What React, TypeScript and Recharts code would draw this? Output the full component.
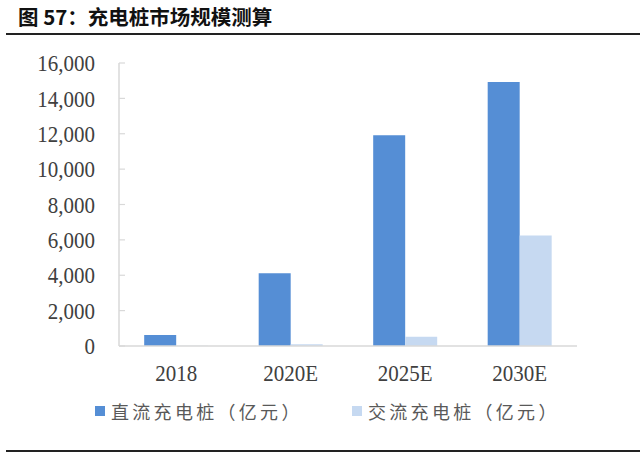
import React from 'react';
import { BarChart, Bar, XAxis, YAxis, Legend } from 'recharts';

const categories = ['2018', '2020E', '2025E', '2030E'];
const dcValues = [620, 4120, 11920, 14920];
const acValues = [10, 100, 530, 6250];
const yTicks = [0, 2000, 4000, 6000, 8000, 10000, 12000, 14000, 16000];
const seriesNames = ['直流充电桩（亿元）', '交流充电桩（亿元）'];
const seriesColors = ['#558ED5', '#C6D9F1'];
const title = '图 57：充电桩市场规模测算';

const data = categories.map((c, i) => ({ name: c, dc: dcValues[i], ac: acValues[i] }));

const fmt = (v: number) => v.toLocaleString('en-US');

const YTick = (props: any) => {
  const { x, y, payload } = props;
  return (
    <g>
      <line x1={x + 24} x2={x + 30} y1={y} y2={y} stroke="#d9d9d9" strokeWidth={1.2} />
      <g transform={`translate(${x},${y}) scale(1,1.12)`}>
        <text x={0} y={0} dy="0.35em" textAnchor="end" fill="#404040" fontSize={21} fontFamily="'Liberation Serif', serif">
          {fmt(payload.value)}
        </text>
      </g>
    </g>
  );
};

const XTick = (props: any) => {
  const { x, y, payload } = props;
  return (
    <g transform={`translate(${x},${y}) scale(1,1.12)`}>
      <text x={0} y={0} dy="0.71em" textAnchor="middle" fill="#404040" fontSize={21} fontFamily="'Liberation Serif', serif">
        {payload.value}
      </text>
    </g>
  );
};

const LegendContent = () => (
  <div style={{ position: 'relative', height: 24, width: 640 }}>
    {seriesNames.map((n, i) => (
      <div key={n} style={{ position: 'absolute', left: i === 0 ? 95 : 352, top: 0, display: 'flex', alignItems: 'center', height: 24 }}>
        <span style={{ display: 'inline-block', width: 10, height: 10, background: seriesColors[i], marginRight: 6 }} />
        <span style={{ fontFamily: "'Noto Sans CJK SC', sans-serif", fontSize: 18, letterSpacing: 3.3, color: '#595959', whiteSpace: 'nowrap' }}>{n}</span>
      </div>
    ))}
  </div>
);

export default function App() {
  return (
    <div style={{ position: 'absolute', left: 0, top: 0, width: 640, height: 456, background: '#fff', overflow: 'hidden' }}>
      <div style={{ position: 'absolute', left: 18, top: 1, fontFamily: "'Noto Sans CJK SC', sans-serif", fontWeight: 700, fontSize: 20.5, color: '#111', whiteSpace: 'nowrap' }}>
        {title}
      </div>
      <div style={{ position: 'absolute', left: 6, right: 0, top: 33, height: 2, background: '#222' }} />
      <div style={{ position: 'absolute', left: 6, right: 0, top: 450, height: 2, background: '#222' }} />
      <BarChart
        width={640}
        height={456}
        data={data}
        margin={{ top: 63, right: 63, left: 0, bottom: 80 }}
        barCategoryGap="22%"
        barGap={0}
      >
        <XAxis
          dataKey="name"
          axisLine={{ stroke: '#d9d9d9', strokeWidth: 1.5 }}
          tickLine={false}
          tickSize={0}
          tickMargin={18}
          height={30}
          tick={<XTick />}
          interval={0}
        />
        <YAxis
          domain={[0, 16000]}
          ticks={yTicks}
          width={119}
          axisLine={{ stroke: '#d9d9d9', strokeWidth: 1.5 }}
          tickLine={false}
          tickSize={0}
          tickMargin={24}
          tick={<YTick />}
          interval={0}
        />
        <Legend
          verticalAlign="middle"
          align="center"
          wrapperStyle={{ top: 399, left: 0, width: 640 }}
          content={<LegendContent />}
        />
        <Bar dataKey="dc" name={seriesNames[0]} fill={seriesColors[0]} isAnimationActive={false} />
        <Bar dataKey="ac" name={seriesNames[1]} fill={seriesColors[1]} isAnimationActive={false} />
      </BarChart>
    </div>
  );
}
